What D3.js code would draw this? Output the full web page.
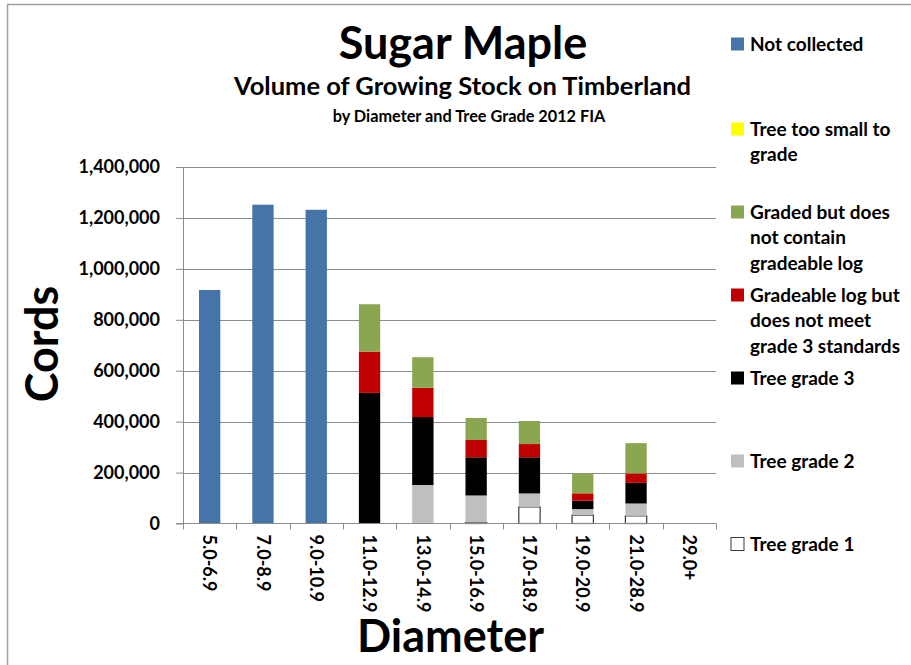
<!DOCTYPE html>
<html>
<head>
<meta charset="utf-8">
<script src="https://cdn.jsdelivr.net/npm/d3@7"></script>
<style>
  html, body { margin: 0; padding: 0; background: #fff; }
  svg { display: block; font-family: Lato, "Open Sans", sans-serif; font-weight: 700; }
</style>
</head>
<body>
<svg id="chart" width="911" height="665"></svg>
<script>
// Diameter classes (inches)
const categories = ["5.0-6.9", "7.0-8.9", "9.0-10.9", "11.0-12.9", "13.0-14.9",
                    "15.0-16.9", "17.0-18.9", "19.0-20.9", "21.0-28.9", "29.0+"];

// Volume in cords for each tree grade class
const treeGrade1      = [0, 0, 0, 0, 0, 4000, 65000, 33000, 30000, 0];
const treeGrade2      = [0, 0, 0, 0, 151000, 106000, 53000, 23500, 48500, 0];
const treeGrade3      = [0, 0, 0, 513000, 267000, 150000, 142000, 33000, 81000, 0];
const gradeableNotG3  = [0, 0, 0, 162000, 115000, 68000, 52000, 29000, 37000, 0];
const gradedNoLog     = [0, 0, 0, 186000, 120000, 86500, 90500, 78500, 119000, 0];
const tooSmall        = [0, 0, 0, 0, 0, 0, 0, 0, 0, 0];
const notCollected    = [917000, 1252000, 1232000, 0, 0, 0, 0, 0, 0, 0];

const yTicks = [0, 200000, 400000, 600000, 800000, 1000000, 1200000, 1400000];

// Series in stacking order (bottom first)
const series = [
  { key: "g1",  name: "Tree grade 1", values: treeGrade1, fill: "#ffffff", stroke: "#3a3a3a" },
  { key: "g2",  name: "Tree grade 2", values: treeGrade2, fill: "#bfbfbf", stroke: null },
  { key: "g3",  name: "Tree grade 3", values: treeGrade3, fill: "#000000", stroke: null },
  { key: "gl",  name: "Gradeable log but does not meet grade 3 standards", values: gradeableNotG3, fill: "#c00000", stroke: null },
  { key: "gn",  name: "Graded but does not contain gradeable log", values: gradedNoLog, fill: "#8ba650", stroke: null },
  { key: "ts",  name: "Tree too small to grade", values: tooSmall, fill: "#ffff00", stroke: null },
  { key: "nc",  name: "Not collected", values: notCollected, fill: "#4674a8", stroke: null }
];

const rows = categories.map((c, i) => {
  const r = { cat: c };
  series.forEach(s => { r[s.key] = s.values[i]; });
  return r;
});

const svg = d3.select("#chart");

// frame around the chart area
svg.append("path")
  .attr("d", "M7.5,665 V4.5 H911")
  .attr("fill", "none")
  .attr("stroke", "#a0a0a0")
  .attr("stroke-width", 1.5);

const plot = { left: 183, right: 716, top: 167, bottom: 523.5 };

const x = d3.scaleBand().domain(categories).range([plot.left, plot.right]).padding(0);
const y = d3.scaleLinear().domain([0, 1400000]).range([plot.bottom, plot.top]);

// horizontal gridlines
svg.append("g")
  .selectAll("line")
  .data(yTicks.filter(d => d > 0))
  .join("line")
  .attr("x1", plot.left).attr("x2", plot.right)
  .attr("y1", d => Math.round(y(d)) + 0.5).attr("y2", d => Math.round(y(d)) + 0.5)
  .attr("stroke", "#8c8c8c").attr("stroke-width", 1);

// stacked bars
const stack = d3.stack().keys(series.map(s => s.key));
const stacked = stack(rows);
const barW = x.bandwidth() * 0.4;

const layers = svg.append("g").selectAll("g")
  .data(stacked)
  .join("g")
  .attr("fill", (d, i) => series[i].fill);

layers.each(function (layer, i) {
  const s = series[i];
  d3.select(this).selectAll("rect")
    .data(layer.filter(d => d[1] - d[0] > 0))
    .join("rect")
    .attr("x", d => x(d.data.cat) + (x.bandwidth() - barW) / 2)
    .attr("width", barW)
    .attr("y", d => y(d[1]))
    .attr("height", d => y(d[0]) - y(d[1]))
    .attr("stroke", s.stroke || "none")
    .attr("stroke-width", s.stroke ? 1.2 : 0);
});

// y axis
const yAxis = d3.axisLeft(y).tickValues(yTicks).tickSize(7).tickSizeOuter(0)
  .tickFormat(d3.format(","));
const yg = svg.append("g").attr("transform", `translate(${plot.left},0)`).call(yAxis);
yg.select(".domain").attr("stroke", "#8c8c8c").attr("d", `M0.5,${plot.top}V${plot.bottom + 6}`);
yg.selectAll(".tick line").attr("stroke", "#8c8c8c");
yg.selectAll(".tick text")
  .attr("x", -23)
  .attr("font-family", "Lato, sans-serif")
  .attr("font-weight", 700)
  .attr("font-size", 18)
  .attr("fill", "#000");

// x axis with ticks at category boundaries
const xg = svg.append("g");
xg.append("line")
  .attr("x1", plot.left - 7).attr("x2", plot.right)
  .attr("y1", plot.bottom).attr("y2", plot.bottom)
  .attr("stroke", "#8c8c8c");
xg.selectAll("line.b")
  .data(categories.map(c => x(c) + x.bandwidth()))
  .join("line")
  .attr("class", "b")
  .attr("x1", d => Math.round(d) + 0.5).attr("x2", d => Math.round(d) + 0.5)
  .attr("y1", plot.bottom).attr("y2", plot.bottom + 6)
  .attr("stroke", "#8c8c8c");
xg.selectAll("text")
  .data(categories)
  .join("text")
  .attr("transform", d => `translate(${x(d) + x.bandwidth() / 2},${plot.bottom + 11}) rotate(90)`)
  .attr("dy", "0.35em")
  .attr("text-anchor", "start")
  .attr("font-size", 18)
  .attr("fill", "#000")
  .text(d => d);

// titles
svg.append("text").attr("x", 463).attr("y", 59).attr("text-anchor", "middle")
  .attr("font-size", 45).text("Sugar Maple");
svg.append("text").attr("x", 462.5).attr("y", 95).attr("text-anchor", "middle")
  .attr("font-size", 25.5).text("Volume of Growing Stock on Timberland");
svg.append("text").attr("x", 469).attr("y", 121.5).attr("text-anchor", "middle")
  .attr("font-size", 16.3).text("by Diameter and Tree Grade 2012 FIA");

// axis titles
svg.append("text").attr("transform", "translate(58,344) rotate(-90)")
  .attr("text-anchor", "middle").attr("font-size", 45).text("Cords");
svg.append("text").attr("x", 450.5).attr("y", 652)
  .attr("text-anchor", "middle").attr("font-size", 45).text("Diameter");

// legend (top to bottom is reverse of stacking)
const legendItems = [
  { s: series[6], lines: ["Not collected"], y: 44 },
  { s: series[5], lines: ["Tree too small to", "grade"], y: 129 },
  { s: series[4], lines: ["Graded but does", "not contain", "gradeable log"], y: 212 },
  { s: series[3], lines: ["Gradeable log but", "does not meet", "grade 3 standards"], y: 295 },
  { s: series[2], lines: ["Tree grade 3"], y: 378 },
  { s: series[1], lines: ["Tree grade 2"], y: 461 },
  { s: series[0], lines: ["Tree grade 1"], y: 544 }
];
const lg = svg.append("g");
legendItems.forEach(it => {
  lg.append("rect")
    .attr("x", 731).attr("y", it.y - 6.5).attr("width", 13).attr("height", 13)
    .attr("fill", it.s.fill)
    .attr("stroke", it.s.stroke || "none").attr("stroke-width", 1);
  const t = lg.append("text").attr("x", 750).attr("y", it.y).attr("font-size", 19);
  it.lines.forEach((ln, k) => {
    t.append("tspan").attr("x", 750).attr("dy", k === 0 ? "0.35em" : 25.5).text(ln);
  });
});
</script>
</body>
</html>
